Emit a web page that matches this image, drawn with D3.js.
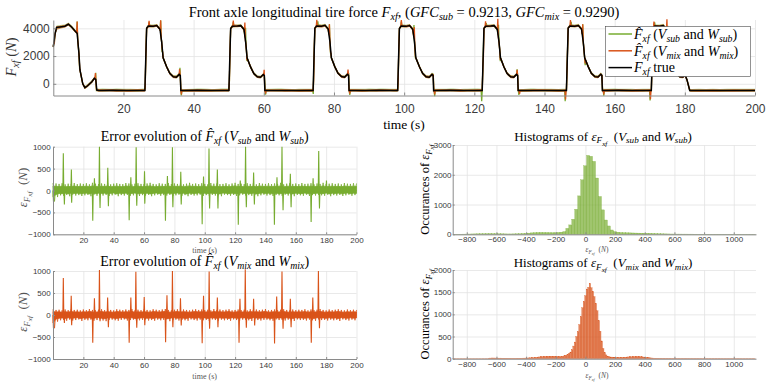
<!DOCTYPE html>
<html><head><meta charset="utf-8">
<script src="https://cdn.jsdelivr.net/npm/d3@7"></script>
<style>
body{margin:0;background:#fff}
svg{display:block}
text{white-space:pre}
</style>
</head><body>
<svg id="c" width="766" height="386"></svg>
<script>
// ---------------- DATA ----------------
const trueTime = [0,0.5,0.95,1.9,3.3,4.3,5.2,6.2,6.8,7.3,7.6,8.4,9.0,9.7,11.0,11.7,12.1,12.4,13,17,21,25,
 26.1,26.6,27.1,28.5,29.5,30.4,30.9,31.3,32.3,33.2,34.2,35.1,35.9,36.2,36.35,37,41,45,49,
 50.05,50.55,51.05,52.45,53.45,54.35,54.85,55.25,56.25,57.15,58.15,59.05,59.85,60.15,60.3,61,65,69,73,
 74.05,74.55,75.05,76.45,77.45,78.35,78.85,79.25,80.25,81.15,82.15,83.05,83.85,84.15,84.3,85,89,93,97,
 98.15,98.65,99.15,100.55,101.55,102.45,102.95,103.35,104.35,105.25,106.25,107.15,107.95,108.25,108.4,109,113,117,121,
 122.25,122.75,123.25,124.65,125.65,126.55,127.05,127.45,128.45,129.35,130.35,131.25,132.05,132.35,132.5,133,137,141,145,
 146.25,146.75,147.25,148.65,149.65,150.55,151.05,151.45,152.45,153.35,154.35,155.25,156.05,156.35,156.5,157,161,165,169,
 170.45,170.95,171.45,172.85,173.85,174.75,175.25,175.65,176.65,177.55,178.55,179.45,180.1,180.6,181.4,182,190,200];
const trueForce = [2670,3600,4070,4100,4150,4290,4100,3800,3640,2200,1000,0,-280,-160,150,390,310,-450,-480,-470,-490,-475,
 -480,4000,4160,4150,4200,3930,3000,1870,1230,750,510,480,680,600,-480,-490,-470,-485,-475,
 -475,3980,4150,4160,4190,3920,2950,1850,1200,740,500,470,670,590,-485,-480,-475,-490,-480,
 -485,4010,4170,4150,4210,3940,3020,1880,1220,760,520,480,690,610,-480,-475,-485,-470,-480,
 -480,3990,4160,4140,4200,3930,3000,1860,1230,750,505,475,680,600,-490,-480,-470,-485,-475,
 -475,4000,4150,4160,4190,3920,2980,1870,1210,745,510,480,675,595,-480,-490,-475,-480,-485,
 -480,4020,4170,4150,4200,3950,3010,1880,1240,760,515,485,690,605,-485,-480,-470,-490,-480,
 -480,4000,4160,4150,4200,3930,3000,1870,1230,750,510,490,620,300,-480,-490,-485,-480];

// error spikes [time (s), error (N)]
const spikesSub = [[0.3,-250],[6.8,850],[7.5,-320],[12.1,480],[12.3,-280],[26.2,-690],[27.3,280],[30.6,1000],[31,-400],
 [36.1,520],[36.5,-360],[50.2,-680],[51.3,300],[54.8,990],[55.2,-350],[60.3,440],[60.5,-300],[74.1,-690],[75.4,330],
 [78.7,990],[79,-380],[84.2,430],[84.5,-320],[98.3,-770],[99.2,320],[102.8,960],[103.2,-410],[108.3,480],[108.7,-410],
 [122.1,-780],[123.4,230],[126.9,1000],[127.4,-380],[132.2,410],[132.7,-320],[145.9,-780],[147.6,300],[150.9,1000],
 [151.6,-450],[156.4,380],[156.9,-380],[170.1,-720],[171.4,280],[175.1,900],[175.6,-410],[180.2,230]];
const spikesMix = [[0.3,-300],[6.8,840],[7.5,-180],[12,440],[12.3,-230],[26.2,-630],[27.3,380],[30.6,1020],[31,-140],
 [36,400],[36.5,-280],[50.2,-630],[51.3,400],[54.6,985],[55.2,-290],[60.1,410],[60.5,-230],[74.2,-620],[75.1,450],
 [78.7,1000],[79,-280],[84,380],[84.5,-240],[98.3,-640],[99.2,440],[102.9,990],[103.2,-310],[108.3,400],[108.7,-280],
 [122.6,-630],[123.2,370],[126.7,1040],[127.4,-290],[132.2,370],[132.9,-240],[146,-650],[147.4,420],[150.9,990],
 [151.6,-310],[156.4,370],[156.9,-280],[170.2,-630],[171.2,400],[174.9,1000],[175.6,-300]];

// noise envelope of the error, sampled every 2 s from 0 to 200 s
const bandTimes = d3.range(0, 201, 2);
const upperSub = [170,160,150,165,140,155,150,170,145,160, 150,165,140,175,155,145,160,150,170,140,
 155,165,150,145,170,160,140,155,165,150, 145,160,175,150,140,165,155,150,170,145,
 160,150,165,140,155,175,150,160,145,165, 150,140,170,155,160,145,150,165,140,160,
 175,150,155,145,165,150,160,140,170,155, 150,165,145,160,150,175,140,155,165,150,
 160,145,170,150,155,165,140,160,150,175, 145,155,165,150,160,140,170,155,150,165, 160];
const lowerSub = [-250,-150,-110,-120,-100,-130,-95,-115,-105,-125, -110,-100,-130,-95,-120,-105,-115,-100,-125,-110,
 -95,-130,-105,-115,-100,-120,-110,-95,-125,-105, -115,-100,-130,-110,-95,-120,-105,-115,-100,-125,
 -110,-95,-120,-105,-130,-100,-115,-110,-95,-125, -105,-120,-100,-115,-110,-130,-95,-105,-120,-100,
 -125,-110,-95,-115,-105,-120,-100,-130,-110,-95, -115,-105,-125,-100,-110,-120,-95,-115,-105,-130,
 -100,-110,-120,-95,-125,-105,-115,-100,-110,-120, -95,-130,-105,-115,-100,-125,-110,-95,-120,-105, -110];
const upperMix = [130,115,120,105,125,110,130,115,120,105, 125,110,135,115,105,120,130,110,125,115,
 105,130,120,110,125,115,135,105,120,110, 125,115,105,130,120,110,125,135,115,105,
 120,130,110,125,115,105,120,130,115,125, 110,120,105,135,115,125,110,120,130,105,
 115,125,110,120,105,130,115,125,110,120, 135,105,115,125,110,120,130,115,105,125,
 110,120,115,130,105,125,110,120,135,115, 105,125,110,120,130,115,105,125,110,120, 115];
const lowerMix = [-300,-150,-120,-110,-130,-105,-125,-115,-100,-135, -110,-120,-105,-130,-115,-100,-125,-140,-110,-105,
 -120,-130,-110,-100,-125,-115,-105,-135,-120,-110, -100,-125,-115,-130,-105,-120,-110,-100,-140,-115,
 -105,-125,-110,-120,-130,-100,-115,-125,-105,-120, -110,-135,-100,-115,-125,-105,-120,-110,-130,-100,
 -115,-125,-105,-110,-120,-135,-100,-115,-125,-110, -105,-120,-130,-100,-115,-110,-125,-105,-120,-135,
 -100,-115,-110,-125,-105,-120,-130,-100,-115,-110, -125,-105,-120,-110,-135,-100,-115,-125,-105,-120, -110];

// histograms
const histSubStart = -892, histSubWidth = 20;
const histSubCounts = [3,4,5,6,8,10,12,14,16,18, 20,22,24,22,20,18,16,14,12,12, 14,16,20,26,32,40,48,55,60,62,
 60,58,55,52,55,62,72, 90,200,315,505,840,1290,1830,2300,2650,2620,2450,1890,1270,820,480,280,145,90,
 70,60,55,50,48,45,42,40,38,36, 35,32,28,24,20,16,14,12,10,9, 8,8,7,7,6,6,5,5,5,5, 5,4,4,4,4,3,3,3,3,3, 3,3,2,2,2,2,2];
const histMixStart = -895, histMixWidth = 10;
const histMixCounts = [1,1,1,1,1,1,1,1,1,1,1,1,1,1,1,1,1,1,1,1,2,2,2,3,
 12,14,16,16,15,14,14,13,13,12,12,12,11,11,11,10,10,10,10,11,11,12,12,13,14,
 15,16,18,20,22,25,28,32,36,40,44,48,50,52,54,55,56,56,55,54,52,50,48,46,
 45,55,65,75,95,120,150,200,285,375,500,610,770,950,1150,1290,1420,1570,1610,1700,1600,1520,1400,1250,1080,860,620,400,230,140,85,55,42,38,
 36,34,33,32,32,31,31,32,33,35,37,40,42,44,46,48,50,50,48,45,42,38,34,30,26,22,18,15,
 13,12,12,11,11,10,10,10,9,9, 9,9,8,8,8,8,7,7,7,7, 7,7,7,6,6,6,6,6,6,6, 6,6,5,5,5,5,5,5,5,5, 5,5,5,5,5,5,4,4,4,4, 4,4,4,4,4,4,4,4,4,3, 3,3,3,3,3,3,3,3,3];

const timeTicks = [20,40,60,80,100,120,140,160,180,200];
const topYTicks = [0,2000,4000];
const errYTicks = [-1000,-500,0,500,1000];
const histXTicks = [-800,-600,-400,-200,0,200,400,600,800,1000];
const histSubYTicks = [0,1000,2000,3000];
const histMixYTicks = [0,500,1000,1500,2000];

// ---------------- DRAWING ----------------
const GREEN = "#77AC30", ORANGE = "#D95319";
const SERIF = "'Liberation Serif','Times New Roman',serif";
const SANS = "'Liberation Sans',Arial,Helvetica,sans-serif";
const svg = d3.select("#c");
svg.append("rect").attr("width",766).attr("height",386).attr("fill","#fff");

function interp(xs, ys, t){
  const i = d3.bisectRight(xs, t);
  if (i <= 0) return ys[0];
  if (i >= xs.length) return ys[ys.length-1];
  const x0 = xs[i-1], x1 = xs[i];
  return ys[i-1] + (ys[i]-ys[i-1])*(t-x0)/(x1-x0);
}

function mtext(parent, x, y, parts, size, opts={}){
  const t = parent.append("text").attr("x",x).attr("y",y)
    .attr("font-family",SERIF).attr("font-size",size)
    .attr("text-anchor",opts.anchor||"middle").attr("fill",opts.fill||"#000");
  if (opts.rotate) t.attr("transform",`rotate(-90,${x},${y})`);
  let cur = 0;
  parts.forEach(p=>{
    const s = typeof p === "string" ? p : p[0];
    const f = typeof p === "string" ? "" : p[1];
    const lvl = f.includes("S") ? 2 : f.includes("s") ? 1 : 0;
    const off = lvl===2 ? size*0.40 : lvl===1 ? size*0.22 : 0;
    const fs = lvl===2 ? size*0.55 : lvl===1 ? size*0.7 : size;
    const ts = t.append("tspan").text(s).attr("font-size",fs).attr("dy",(off-cur).toFixed(2));
    if (f.includes("i")) ts.attr("font-style","italic");
    cur = off;
  });
  return t;
}

function drawGrid(x, y, xt, yt){
  const g = svg.append("g");
  const [x0,x1] = x.range(), [y0,y1] = y.range();
  g.append("g").attr("transform",`translate(0,${y0})`)
    .call(d3.axisBottom(x).tickValues(xt).tickSize(-(y0-y1)).tickFormat(""))
    .call(s=>{s.select(".domain").remove(); s.selectAll("line").attr("stroke","#e3e3e3").attr("stroke-width",0.8);});
  g.append("g").attr("transform",`translate(${x0},0)`)
    .call(d3.axisLeft(y).tickValues(yt).tickSize(-(x1-x0)).tickFormat(""))
    .call(s=>{s.select(".domain").remove(); s.selectAll("line").attr("stroke","#e3e3e3").attr("stroke-width",0.8);});
}
function drawAxisLines(x, y, xt, yt, o){
  const g = svg.append("g");
  const [x0,x1] = x.range(), [y0,y1] = y.range();
  const style = s=>{
    s.select(".domain").attr("stroke","#8a8a8a");
    s.selectAll(".tick line").attr("stroke","#8a8a8a");
    s.selectAll("text").attr("font-family",SANS).attr("font-size",o.fs).attr("fill","#3a3a3a");
  };
  g.append("g").attr("transform",`translate(0,${y0})`)
    .call(d3.axisBottom(x).tickValues(xt).tickSizeInner(-o.tick).tickSizeOuter(0).tickPadding(o.xpad).tickFormat(d3.format("d")))
    .call(style);
  g.append("g").attr("transform",`translate(${x0},0)`)
    .call(d3.axisLeft(y).tickValues(yt).tickSizeInner(-o.tick).tickSizeOuter(0).tickPadding(o.ypad).tickFormat(d3.format("d")))
    .call(style);
}

// ---- Top plot ----
const xTop = d3.scaleLinear().domain([0,200]).range([53.3,755]);
const yTop = d3.scaleLinear().domain([-843,4598]).range([95.5,20]);
drawGrid(xTop, yTop, timeTicks, topYTicks);

function estimate(spikes, upper, lower, color){
  const ts = Array.from(new Set(trueTime.concat(bandTimes))).sort((a,b)=>a-b);
  const band = ts.map(t=>({t, lo: interp(trueTime,trueForce,t)+interp(bandTimes,lower,t)*0.8, hi: interp(trueTime,trueForce,t)+interp(bandTimes,upper,t)*0.8}));
  svg.append("path").datum(band)
    .attr("d", d3.area().x(d=>xTop(d.t)).y0(d=>yTop(d.lo)).y1(d=>yTop(d.hi)))
    .attr("fill",color).attr("opacity",0.55);
  let pts = trueTime.map((t,i)=>({t, v: trueForce[i]}));
  spikes.forEach(([s,v])=>{
    pts = pts.filter(p=>Math.abs(p.t-s)>0.15);
    pts.push({t:s-0.15, v:interp(trueTime,trueForce,s-0.15)});
    pts.push({t:s, v:interp(trueTime,trueForce,s)+v});
    pts.push({t:s+0.15, v:interp(trueTime,trueForce,s+0.15)});
  });
  pts.sort((a,b)=>a.t-b.t);
  svg.append("path").datum(pts)
    .attr("d", d3.line().x(d=>xTop(d.t)).y(d=>yTop(d.v)))
    .attr("fill","none").attr("stroke",color).attr("stroke-width",1.3);
}
estimate(spikesSub, upperSub, lowerSub, GREEN);
estimate(spikesMix, upperMix, lowerMix, ORANGE);
svg.append("path").datum(trueTime.map((t,i)=>[t,trueForce[i]]))
  .attr("d", d3.line().x(d=>xTop(d[0])).y(d=>yTop(d[1])))
  .attr("fill","none").attr("stroke","#000").attr("stroke-width",1.5);
drawAxisLines(xTop, yTop, timeTicks, topYTicks, {tick:3, xpad:9, ypad:3.5, fs:12});

mtext(svg, 404, 17, ["Front axle longitudinal tire force ",["F","i"],["xf","si"],", (",["GFC","i"],["sub","si"]," = 0.9213, ",["GFC","i"],["mix","si"]," = 0.9290)"], 14.5);
mtext(svg, 404, 129, ["time (s)"], 13.5);
mtext(svg, 16, 57, [["F","i"],["xf","si"]," (",["N","i"],")"], 14.5, {rotate:true, fill:"#333"});

// legend
const lg = svg.append("g");
lg.append("rect").attr("x",605.5).attr("y",26.5).attr("width",145).attr("height",50)
  .attr("fill","#fff").attr("stroke","#4a4a4a").attr("stroke-width",0.6);
const legItems = [
  {color:GREEN, parts:[["F\u0302","i"],["xf","si"]," (",["V","i"],["sub","si"]," and ",["W","i"],["sub","si"],")"]},
  {color:ORANGE, parts:[["F\u0302","i"],["xf","si"]," (",["V","i"],["mix","si"]," and ",["W","i"],["mix","si"],")"]},
  {color:"#000", parts:[["F","i"],["xf","si"]," true"]}
];
legItems.forEach((it,i)=>{
  const yy = 34 + i*16.8;
  lg.append("line").attr("x1",608.5).attr("x2",632).attr("y1",yy).attr("y2",yy).attr("stroke",it.color).attr("stroke-width",1.5);
  mtext(lg, 634, yy+4.8, it.parts, 14, {anchor:"start"});
});

// ---- Error plots ----
function errorPlot(y0, y1, spikes, upper, lower, color, parts, titleY, tickY){
  const x = d3.scaleLinear().domain([0,200]).range([53,356.5]);
  const y = d3.scaleLinear().domain([-1000,1000]).range([y0,y1]);
  drawGrid(x, y, timeTicks, errYTicks);
  // dense noise: solid core plus zig-zag between the read envelope values
  const band = bandTimes.map((t,i)=>({t, lo:lower[i], hi:upper[i]}));
  svg.append("path").datum(band)
    .attr("d", d3.area().x(d=>x(d.t)).y0(d=>y(d.lo*0.6)).y1(d=>y(d.hi*0.6)))
    .attr("fill",color).attr("stroke",color).attr("stroke-width",0.8);
  const zz = [];
  bandTimes.forEach((t,i)=>{ zz.push([t, upper[i]]); if (t < 200) zz.push([t+1, lower[i]]); });
  svg.append("path").datum(zz)
    .attr("d", d3.line().x(d=>x(d[0])).y(d=>y(d[1])))
    .attr("fill","none").attr("stroke",color).attr("stroke-width",0.8);
  const pts = [[0,0]];
  spikes.forEach(([s,v])=>{ pts.push([s-0.3,0],[s,v],[s+0.3,0]); });
  pts.push([200,0]);
  svg.append("path").datum(pts)
    .attr("d", d3.line().x(d=>x(d[0])).y(d=>y(d[1])))
    .attr("fill","none").attr("stroke",color).attr("stroke-width",1.1);
  drawAxisLines(x, y, timeTicks, errYTicks, {tick:2, xpad:3.5, ypad:2.3, fs:8});
  mtext(svg, 204.7, titleY, parts, 14);
  mtext(svg, 204.7, tickY+9.5, ["time (s)"], 8, {fill:"#555"});
  mtext(svg, 27, (y0+y1)/2 - 3, [["\u03B5","i"],["F","si"],["xf","Si"],"  (",["N","i"],")"], 13, {rotate:true, fill:"#555"});
}
errorPlot(234.3, 146.7, spikesSub, upperSub, lowerSub, GREEN,
  ["Error evolution of ",["F\u0302","i"],["xf","si"]," (",["V","i"],["sub","si"]," and ",["W","i"],["sub","si"],")"], 140.5, 243);
errorPlot(359, 271, spikesMix, upperMix, lowerMix, ORANGE,
  ["Error evolution of ",["F\u0302","i"],["xf","si"]," (",["V","i"],["mix","si"]," and ",["W","i"],["mix","si"],")"], 265.5, 369);

// ---- Histograms ----
function histPlot(y0, y1, ymax, yt, start, width, counts, color, parts, titleY, labelY){
  const x = d3.scaleLinear().domain([-895,1150]).range([452.7,756]);
  const y = d3.scaleLinear().domain([0,ymax]).range([y0,y1]);
  drawGrid(x, y, histXTicks, yt);
  svg.append("g").selectAll("rect").data(counts).join("rect")
    .attr("x",(d,i)=>x(start+i*width))
    .attr("width",(d,i)=>x(start+(i+1)*width)-x(start+i*width))
    .attr("y",d=>y(d)).attr("height",d=>y(0)-y(d))
    .attr("fill",color).attr("fill-opacity",0.7)
    .attr("stroke",color).attr("stroke-opacity",0.9).attr("stroke-width",0.3);
  drawAxisLines(x, y, histXTicks, yt, {tick:2, xpad:2.5, ypad:1.2, fs:8});
  mtext(svg, 603, titleY, parts, 13);
  mtext(svg, 597, labelY, [["\u03B5","i"],["F","si"],["xf","Si"],"  (",["N","i"],")"], 7.5, {fill:"#555"});
  mtext(svg, 429, (y0+y1)/2, ["Occurances of ",["\u03B5","i"],["F","si"],["xf","Si"]], 12.5, {rotate:true});
}
histPlot(234.3, 145, 3000, histSubYTicks, histSubStart, histSubWidth, histSubCounts, GREEN,
  ["Histograms of ",["\u03B5","i"],["F","si"],["xf","Si"],"  (",["V","i"],["sub","si"]," and ",["W","i"],["sub","si"],")"], 140.5, 252);
histPlot(358.7, 270, 2000, histMixYTicks, histMixStart, histMixWidth, histMixCounts, ORANGE,
  ["Histograms of ",["\u03B5","i"],["F","si"],["xf","Si"],"  (",["V","i"],["mix","si"]," and ",["W","i"],["mix","si"],")"], 267, 378);
</script>
</body></html>
